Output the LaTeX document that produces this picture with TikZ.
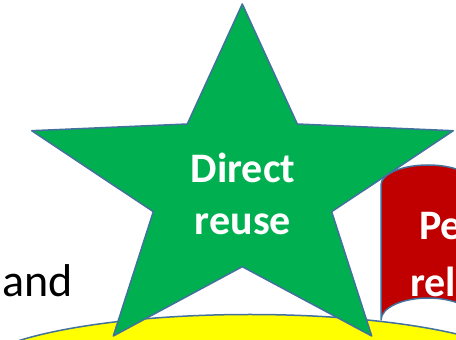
\documentclass[tikz,border=0pt]{standalone}
\usepackage{fontspec}
\setmainfont{Carlito}
\definecolor{edgeblue}{HTML}{41719C}
\definecolor{stargreen}{HTML}{00B050}
\definecolor{tapered}{HTML}{C00000}
\definecolor{ovalyellow}{HTML}{FFFF00}
\begin{document}
\begin{tikzpicture}[x=1pt,y=1pt,
  shapeline/.style={draw=edgeblue, line width=1.5pt, line join=round},
  whitebold/.style={text=white, font=\fontsize{42}{51}\selectfont\bfseries, inner sep=0pt},
  blacktext/.style={text=black, font=\fontsize{46}{55}\selectfont, inner sep=0pt}]
\useasboundingbox (0,0) rectangle (456,340);
% red punched tape
\path[shapeline, fill=tapered] (381,20) -- (381,155)
  arc[start angle=180, end angle=0, x radius=47, y radius=20]
  arc[start angle=180, end angle=360, x radius=47, y radius=20]
  -- (569,20)
  arc[start angle=0, end angle=-180, x radius=47, y radius=22]
  arc[start angle=0, end angle=180, x radius=47, y radius=22] -- cycle;
\node[whitebold, anchor=base west] (pe) at (419,100) {Pe};
\node[whitebold, anchor=base west] (rel) at (410,43) {rel};
% yellow ellipse
\path[shapeline, fill=ovalyellow] (250,-34.5) ellipse[x radius=280, y radius=60];
\node[blacktext, font=\fontsize{44}{53}\selectfont\bfseries, anchor=base west] (ff) at (170,-31.5) {ff};
% green star
\path[shapeline, fill=stargreen] (242.3,336) -- (297.3,216) -- (453.3,209.3)
  -- (331.7,128.3) -- (371.7,4) -- (242.3,73.3) -- (113.3,4) -- (153.3,128.3)
  -- (31.7,209.3) -- (187.3,216) -- cycle;
\node[whitebold, anchor=base] (direct) at (243,157) {Direct};
\node[whitebold, anchor=base] (reuse) at (243,105) {reuse};
% left text
\node[blacktext, anchor=base west] (and) at (2,43.3) {and};
\end{tikzpicture}
\end{document}
